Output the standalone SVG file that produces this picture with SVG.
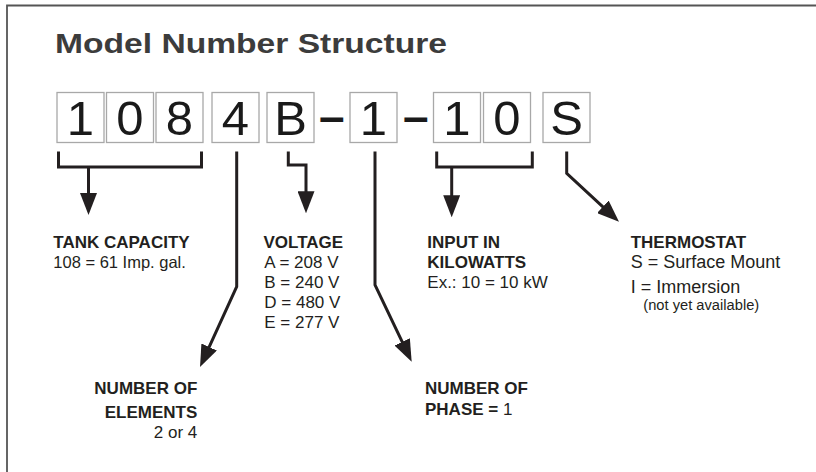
<svg xmlns="http://www.w3.org/2000/svg" width="816" height="472" viewBox="0 0 816 472">
<style>
  text { font-family: "Liberation Sans", Arial, Helvetica, sans-serif; fill: #231f20; }
  .title { font-size: 28px; font-weight: 900; fill: #3c3c3c; }
  .box { fill: #ffffff; stroke: #a8a8a8; stroke-width: 1.3; }
  .digit { font-size: 49px; text-anchor: middle; fill: #1a1a1a; }
  .dash { font-size: 46px; font-weight: bold; text-anchor: middle; fill: #1a1a1a; }
  .lbl { font-size: 17px; font-weight: bold; }
  .reg { font-size: 17px; }
  .reg18 { font-size: 18px; }
  .small { font-size: 14.7px; }
  .conn { fill: none; stroke: #231f20; stroke-width: 3; stroke-linejoin: miter; }
  .end { text-anchor: end; }
</style>
<defs>
  <marker id="arrow" viewBox="0 0 22 17" refX="10" refY="8.5" markerWidth="22" markerHeight="17" markerUnits="userSpaceOnUse" orient="auto">
    <path d="M0,0 L22,8.5 L0,17 z" fill="#231f20"/>
  </marker>
</defs>
<rect x="0" y="0" width="816" height="472" fill="#ffffff"/>
<path d="M7,472 V5.5 H816" fill="none" stroke="#555555" stroke-width="1.8"/>
<text class="title" x="55" y="53" textLength="392" lengthAdjust="spacingAndGlyphs">Model Number Structure</text>

<g id="model-number">
  <g id="d1"><rect class="box" x="57" y="92.5" width="47" height="50"/><text class="digit" x="80.5" y="135">1</text></g>
  <g id="d2"><rect class="box" x="106.5" y="92.5" width="47" height="50"/><text class="digit" x="130" y="135">0</text></g>
  <g id="d3"><rect class="box" x="156" y="92.5" width="47" height="50"/><text class="digit" x="179.5" y="135">8</text></g>
  <g id="d4"><rect class="box" x="212" y="92.5" width="47" height="50"/><text class="digit" x="235.5" y="135">4</text></g>
  <g id="d5"><rect class="box" x="267" y="92.5" width="47" height="50"/><text class="digit" x="290.5" y="135">B</text></g>
  <text class="dash" x="331.7" y="131.5">–</text>
  <g id="d6"><rect class="box" x="350" y="92.5" width="47" height="50"/><text class="digit" x="373.5" y="135">1</text></g>
  <text class="dash" x="415.8" y="131.5">–</text>
  <g id="d7"><rect class="box" x="433.5" y="92.5" width="47" height="50"/><text class="digit" x="457" y="135">1</text></g>
  <g id="d8"><rect class="box" x="483.5" y="92.5" width="47" height="50"/><text class="digit" x="507" y="135">0</text></g>
  <g id="d9"><rect class="box" x="543" y="92.5" width="47" height="50"/><text class="digit" x="566.5" y="135">S</text></g>
</g>

<g id="connectors">
  <path class="conn" d="M58.5,151.5 V167 H201.5 V151.5"/>
  <path class="conn" d="M88.5,167 V203" marker-end="url(#arrow)"/>
  <path class="conn" d="M236.7,151.5 V286.7 L205,356.1" marker-end="url(#arrow)"/>
  <path class="conn" d="M288.3,151.5 V165 H306 V201.3" marker-end="url(#arrow)"/>
  <path class="conn" d="M375,151.5 V285 L406.5,350.9" marker-end="url(#arrow)"/>
  <path class="conn" d="M436.7,151.5 V167 H532.3 V151.5"/>
  <path class="conn" d="M451.7,167 V205.3" marker-end="url(#arrow)"/>
  <path class="conn" d="M566.7,151.5 V173.3 L610.2,213.6" marker-end="url(#arrow)"/>
</g>

<g id="tank-capacity">
  <text class="lbl" x="53.3" y="248.3">TANK CAPACITY</text>
  <text class="reg" x="53.3" y="268.3" style="font-size:16.5px">108 = 61 Imp. gal.</text>
</g>
<g id="voltage">
  <text class="lbl" x="263.5" y="248.3">VOLTAGE</text>
  <text class="reg" x="264.3" y="268.3">A = 208 V</text>
  <text class="reg" x="264.3" y="288.3">B = 240 V</text>
  <text class="reg" x="264.3" y="308.3">D = 480 V</text>
  <text class="reg" x="264.3" y="328.3">E = 277 V</text>
</g>
<g id="input">
  <text class="lbl" x="427.3" y="248.3">INPUT IN</text>
  <text class="lbl" x="427.3" y="268.3">KILOWATTS</text>
  <text class="reg" x="427.3" y="288.3">Ex.: 10 = 10 kW</text>
</g>
<g id="thermostat">
  <text class="lbl" x="630.7" y="248.3">THERMOSTAT</text>
  <text class="reg18" x="630.7" y="268.3">S = Surface Mount</text>
  <text class="reg18" x="630.7" y="293.3">I = Immersion</text>
  <text class="small" x="643.3" y="310">(not yet available)</text>
</g>
<g id="elements">
  <text class="lbl end" x="197.3" y="394">NUMBER OF</text>
  <text class="lbl end" x="197.3" y="417.5">ELEMENTS</text>
  <text class="reg end" x="197.3" y="438.3">2 or 4</text>
</g>
<g id="phase">
  <text class="lbl" x="425" y="394">NUMBER OF</text>
  <text class="lbl" x="425" y="415">PHASE = <tspan style="font-weight:normal">1</tspan></text>
</g>
</svg>
